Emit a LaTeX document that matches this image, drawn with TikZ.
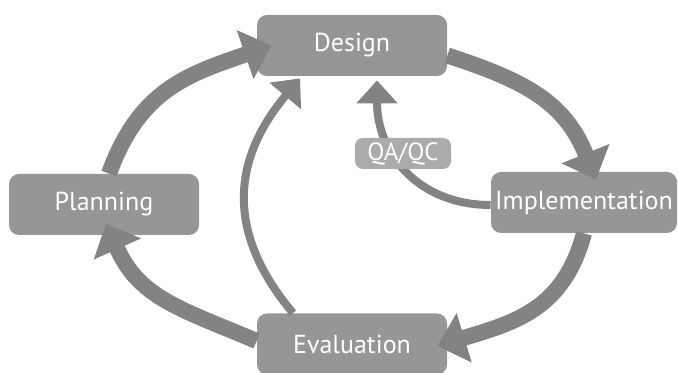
\documentclass[tikz,border=0pt]{standalone}
\usepackage{fontspec}
\setmainfont{PT Sans}
\usetikzlibrary{arrows.meta}
\definecolor{boxgray}{HTML}{969696}
\definecolor{arrowgray}{HTML}{838383}
\definecolor{qagray}{HTML}{ABABAB}
\tikzset{
    stage/.style={fill=boxgray, text=white, rounded corners=5pt, inner sep=0pt,
        minimum width=95pt, minimum height=30.5pt, font=\fontsize{13}{15}\selectfont},
    qabox/.style={fill=qagray, text=white, rounded corners=4pt, inner sep=0pt,
        minimum width=48pt, minimum height=15.5pt, font=\fontsize{12.5}{15}\selectfont},
    bigarrow/.style={arrowgray, line width=8pt, looseness=1.1, -{Triangle[length=14pt,width=25pt]}},
    thinarrow/.style={arrowgray, line width=4pt, -{Triangle[length=11.5pt,width=20pt]}}
}
\begin{document}
\begin{tikzpicture}[x=0.5pt,y=0.5pt]
    \useasboundingbox (0,0) rectangle (678,373);

    \node[stage] (design) at (352,327.5) {Design};
    \node[stage] (plan) at (104,168.5) {Planning};
    \node[stage, minimum width=93pt] (impl) at (584,170.5) {Implementation};
    \node[stage] (eval) at (352,29) {Evaluation};

    \path[bigarrow] ([xshift=2.5pt]plan.north) edge[out=70,in=199] ([xshift=7.5pt]design.west);
    \path[bigarrow] ([yshift=-5pt]design.east) edge[out=-18,in=112] ([xshift=6pt,yshift=-4pt]impl.north);
    \path[bigarrow] (impl.south) edge[out=-105,in=17] ([xshift=-5pt,yshift=-1pt]eval.east);
    \path[bigarrow] ([yshift=1.5pt]eval.west) edge[out=157,in=-66] ([xshift=1pt,yshift=6pt]plan.south);

    \path[thinarrow] ([xshift=-29.5pt]eval.north) edge[out=130,in=230,looseness=1.15] ([xshift=-26pt,yshift=-1pt]design.south);
    \path[thinarrow] ([yshift=-1.25pt]impl.west) edge[out=180,in=270,looseness=1.1] ([xshift=12.5pt,yshift=-2pt]design.south);

    \node[qabox] (qa) at (403,219.5) {QA/QC};
\end{tikzpicture}
\end{document}
